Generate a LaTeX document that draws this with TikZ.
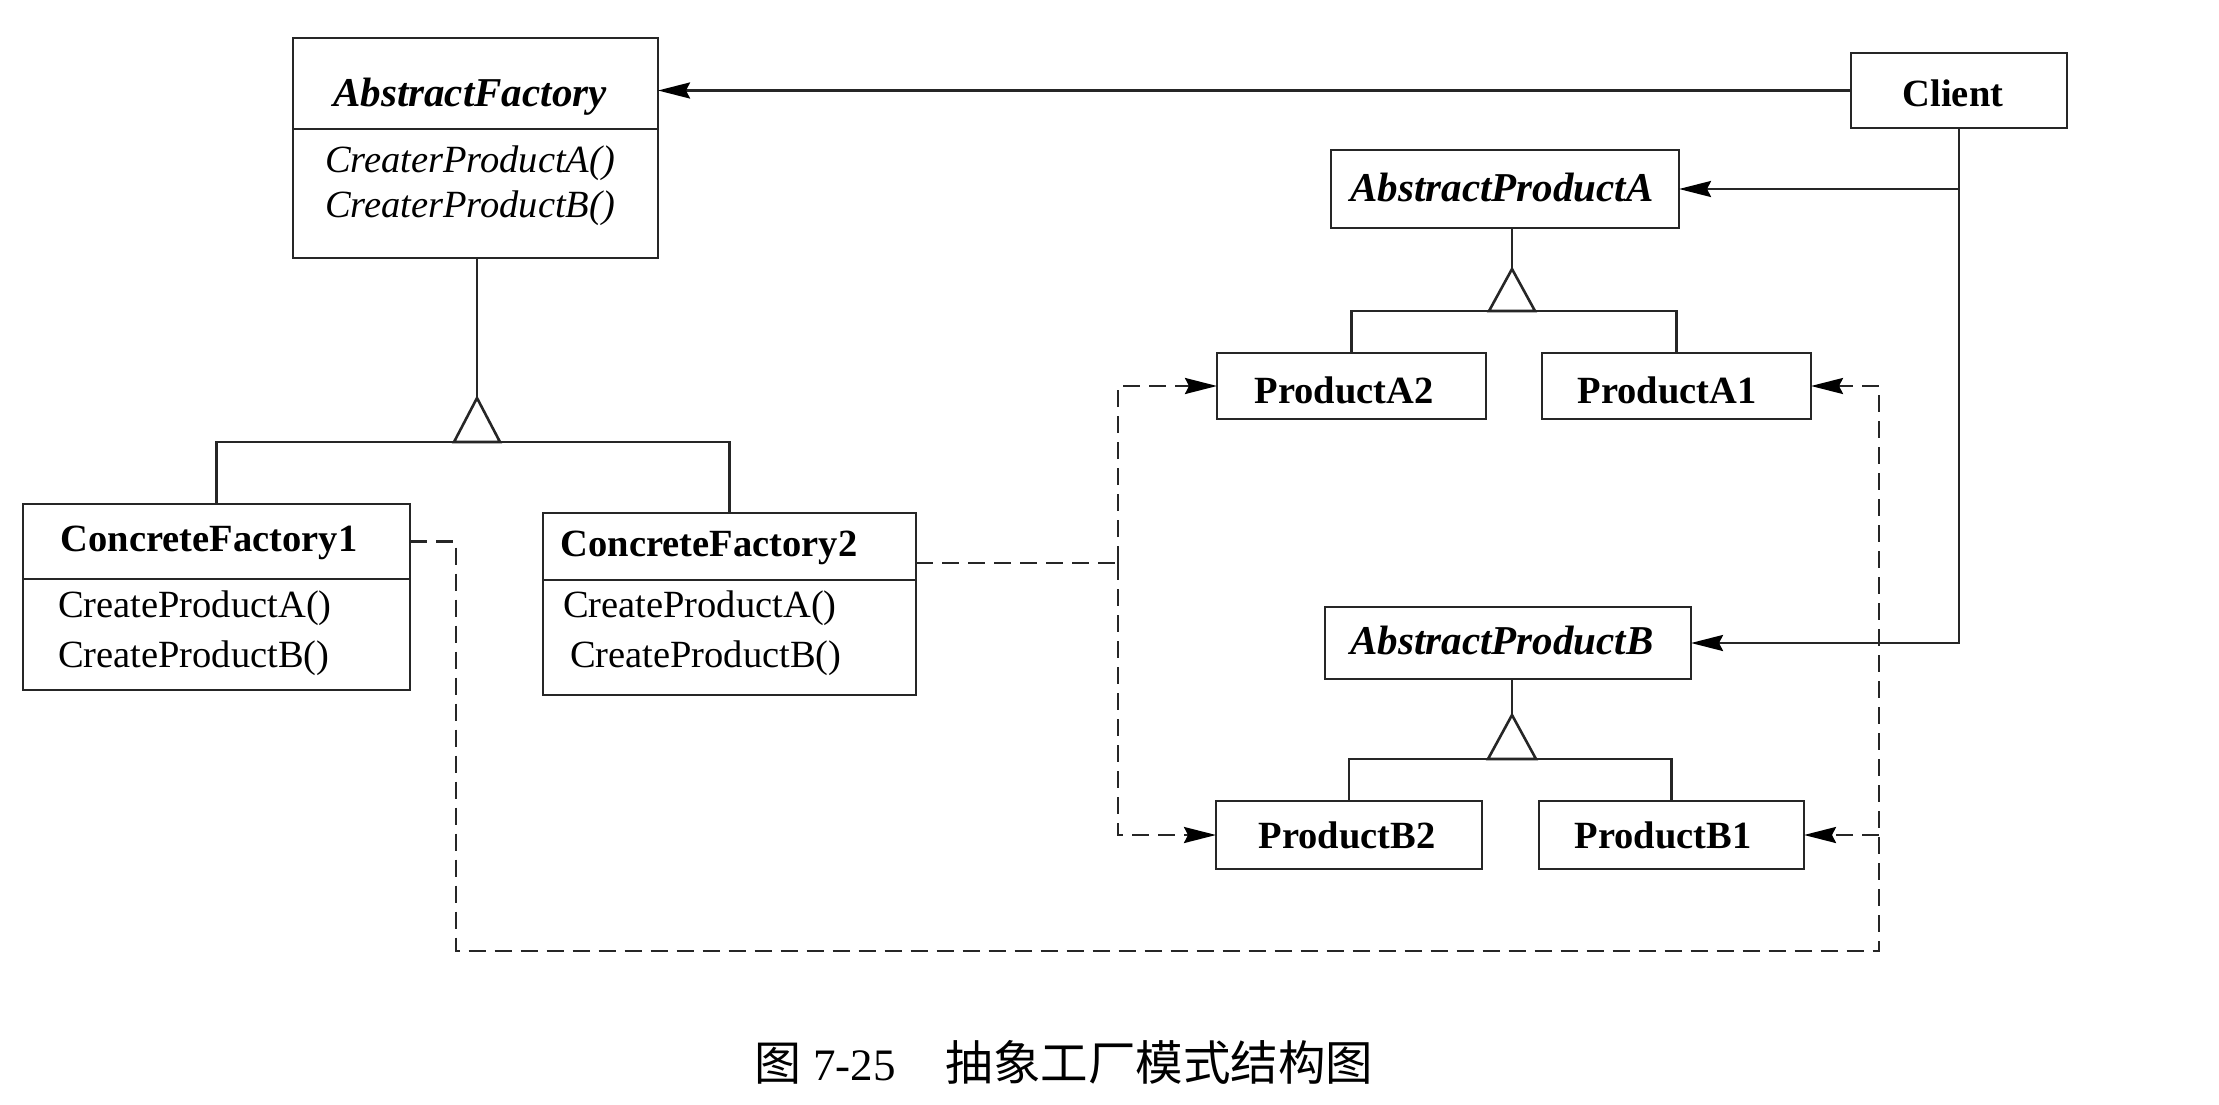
\documentclass[tikz,border=0pt]{standalone}
\usepackage{fontspec}
\setmainfont{Liberation Serif}
\newfontfamily\cjk{Noto Sans CJK SC}
\usetikzlibrary{arrows.meta}
\begin{document}
\begin{tikzpicture}[x=1pt,y=-1pt,
  ln/.style={line width=2.6pt, draw=black!85},
  box/.style={ln, rectangle, inner sep=0pt, outer sep=0pt},
  txt/.style={inner sep=0pt, outer sep=0pt, font=\fontsize{38.5}{46}\selectfont},
  itx/.style={inner sep=0pt, outer sep=0pt, font=\fontsize{38.5}{46}\selectfont\itshape},
  ttl/.style={inner sep=0pt, outer sep=0pt, font=\fontsize{38.5}{46}\selectfont\bfseries},
  attl/.style={inner sep=0pt, outer sep=0pt, font=\fontsize{41}{46}\selectfont\bfseries\itshape},
  dep/.style={ln, dash pattern=on 17pt off 9pt},
  tip/.style={-{Stealth[length=32pt,width=16pt,inset=4pt,fill=black,color=black]}},
]
\useasboundingbox (0,0) rectangle (2219,1105);

% ---- boxes ----
\node[box, minimum width=365pt, minimum height=91pt]  (af)   at (475.5,83.5) {};
\node[box, minimum width=365pt, minimum height=129pt] (afm)  at (475.5,193.5) {};
\node[box, minimum width=387pt, minimum height=75pt]  (cf1)  at (216.5,541.5) {};
\node[box, minimum width=387pt, minimum height=111pt] (cf1m) at (216.5,634.5) {};
\node[box, minimum width=373pt, minimum height=67pt]  (cf2)  at (729.5,546.5) {};
\node[box, minimum width=373pt, minimum height=115pt] (cf2m) at (729.5,637.5) {};
\node[box, minimum width=216pt, minimum height=75pt]  (cl)   at (1959,90.5) {};
\node[box, minimum width=348pt, minimum height=78pt]  (apa)  at (1505,189) {};
\node[box, minimum width=269pt, minimum height=66pt]  (a2)   at (1351.5,386) {};
\node[box, minimum width=269pt, minimum height=66pt]  (a1)   at (1676.5,386) {};
\node[box, minimum width=366pt, minimum height=72pt]  (apb)  at (1508,643) {};
\node[box, minimum width=266pt, minimum height=68pt]  (b2)   at (1349,835) {};
\node[box, minimum width=265pt, minimum height=68pt]  (b1)   at (1671.5,835) {};

% ---- texts ----
\node[attl, anchor=base] (aft) at (470,107) {AbstractFactory};
\node[itx, anchor=base west] (afm1) at (325,172) {CreaterProductA()};
\node[itx, anchor=base west] (afm2) at (325,217) {CreaterProductB()};
\node[ttl, anchor=base] (cf1t) at (209,551) {ConcreteFactory1};
\node[txt, anchor=base west] (cf1a) at (58,617) {CreateProductA()};
\node[txt, anchor=base west] (cf1b) at (58,667) {CreateProductB()};
\node[ttl, anchor=base] (cf2t) at (709,556) {ConcreteFactory2};
\node[txt, anchor=base west] (cf2a) at (563,617) {CreateProductA()};
\node[txt, anchor=base west] (cf2b) at (570,667) {CreateProductB()};
\node[ttl, anchor=base] (clt) at (1953,107) {Client};
\node[attl, anchor=base] (apat) at (1502,201) {AbstractProductA};
\node[ttl, anchor=base] (a2t) at (1344,403) {ProductA2};
\node[ttl, anchor=base] (a1t) at (1667,403) {ProductA1};
\node[attl, anchor=base] (apbt) at (1502,654) {AbstractProductB};
\node[ttl, anchor=base] (b2t) at (1347,848) {ProductB2};
\node[ttl, anchor=base] (b1t) at (1663,848) {ProductB1};

% ---- generalization: AbstractFactory ----
\coordinate (g1) at (477,398);
\coordinate (g1b) at (477,442);
\draw[ln] (afm.south -| g1) -- (g1);
\draw[ln] (g1) -- ([xshift=-23pt]g1b) -- ([xshift=23pt]g1b) -- cycle;
\draw[ln] (cf1.north) -- (cf1.north |- g1b) -- (cf2.north |- g1b) -- (cf2.north);

% ---- generalization: AbstractProductA ----
\coordinate (g2) at (1512,269);
\coordinate (g2b) at (1512,311);
\draw[ln] (apa.south -| g2) -- (g2);
\draw[ln] (g2) -- ([xshift=-23pt]g2b) -- ([xshift=23pt]g2b) -- cycle;
\draw[ln] (a2.north) -- (a2.north |- g2b) -- (a1.north |- g2b) -- (a1.north);

% ---- generalization: AbstractProductB ----
\coordinate (g3) at (1512,715);
\coordinate (g3b) at (1512,759);
\draw[ln] (apb.south -| g3) -- (g3);
\draw[ln] (g3) -- ([xshift=-24pt]g3b) -- ([xshift=24pt]g3b) -- cycle;
\draw[ln] (b2.north) -- (b2.north |- g3b) -- (b1.north |- g3b) -- (b1.north);

% ---- client associations ----
\draw[ln, tip] (cl.west) -- (cl.west -| af.east);
\draw[ln, tip] (cl.south) |- (apb.east);
\draw[ln, tip] (cl.south |- apa.east) -- (apa.east);

% ---- dependencies ----
\coordinate (d1) at (456,951);
\coordinate (d2) at (1879,951);
\draw[dep, tip] (cf1.east) -| (d1) -- (d2) -- (d2 |- a1.east) -- (a1.east);
\draw[dep, tip] (d2 |- b1.east) -- (b1.east);
\coordinate (j2) at (1118,563);
\draw[dep] (cf2.east |- j2) -- (j2);
\draw[dep, tip] (j2) |- (a2.west);
\draw[dep, tip] (j2) |- (b2.west);

% ---- caption ----
\node[anchor=base west, inner sep=0pt] (cap) at (754,1080)
  {{\cjk\fontsize{47}{50}\selectfont 图}\hspace{12pt}{\fontsize{45}{50}\selectfont 7-25}\hspace{50pt}{\cjk\fontsize{47.5}{50}\selectfont 抽象工厂模式结构图}};
\end{tikzpicture}
\end{document}
